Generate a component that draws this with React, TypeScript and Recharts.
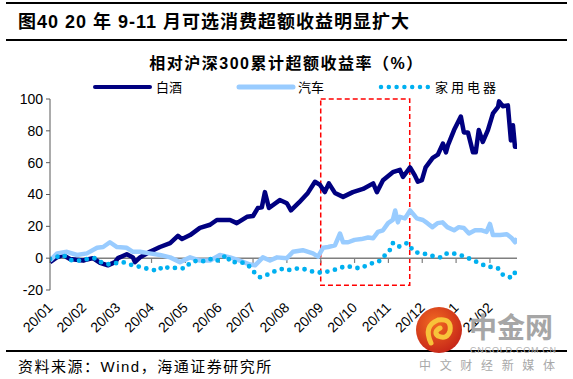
import { LineChart, Line, XAxis, YAxis, ReferenceLine, ReferenceArea } from 'recharts';

// month labels on the x axis (tick i = start of month i)
const months = ['20/01', '20/02', '20/03', '20/04', '20/05', '20/06', '20/07', '20/08', '20/09', '20/10', '20/11', '20/12', '21/01', '21/02'];
const yTicks = [-20, 0, 20, 40, 60, 80, 100];

// [months since 2020-01, cumulative excess return %]
const baijiu: [number, number][] = [
  [0, -2.5], [0.2, 0.5], [0.38, 2], [0.59, -0.5], [0.97, -1.5], [1.27, 0], [1.48, -3], [1.71, -4.5],
  [1.92, -2.5], [2.01, 0], [2.27, 2.5], [2.45, 0.5], [2.51, -2.5], [2.66, 0.5], [2.95, 4], [3.25, 7],
  [3.55, 9.5], [3.78, 14], [3.9, 12], [4.14, 14.5], [4.43, 19], [4.73, 21], [4.93, 24], [5.32, 24],
  [5.52, 22], [5.82, 26], [6.0, 26.5], [6.14, 31.5], [6.26, 32], [6.35, 41.5], [6.47, 31.5], [6.79, 36.5],
  [7.0, 34.5], [7.12, 30], [7.36, 35], [7.62, 41], [7.83, 48], [7.98, 46], [8.12, 41.5], [8.24, 47],
  [8.42, 41], [8.66, 38.5], [8.95, 41.5], [9.25, 43.5], [9.55, 47], [9.66, 41.5], [9.84, 49], [10.13, 54],
  [10.34, 55.5], [10.43, 51], [10.64, 57], [10.78, 52], [10.87, 48], [10.99, 49], [11.1, 57], [11.31, 63],
  [11.46, 65], [11.61, 72], [11.7, 66.5], [11.76, 71], [11.94, 80.5], [12.14, 89], [12.23, 79], [12.35, 79],
  [12.5, 66.5], [12.58, 66.5], [12.67, 80.5], [12.79, 73], [12.94, 80.5], [13.09, 91], [13.24, 95], [13.27, 98.5],
  [13.38, 95.5], [13.53, 96], [13.62, 74], [13.68, 83.5], [13.74, 70], [13.8, 70],
];

const qiche: [number, number][] = [
  [0, -1.5], [0.21, 3], [0.5, 4], [0.8, 2], [1.09, 3], [1.39, 6.5], [1.57, 7], [1.77, 10],
  [1.98, 7], [2.27, 6.5], [2.45, 4], [2.66, 4], [2.95, 3], [3.25, 2], [3.55, 0.5], [3.84, -2.5],
  [4.14, 0.5], [4.43, -1.5], [4.73, -1.5], [5.02, 2], [5.32, 0.5], [5.61, -1.5], [5.91, -4], [6.06, -4.5],
  [6.29, 0.5], [6.5, -1.5], [6.71, 0.5], [7.0, 0], [7.18, 4], [7.47, 5], [7.77, 3], [7.92, 1],
  [8.07, 6.5], [8.22, 7], [8.42, 8], [8.57, 15.5], [8.66, 10], [8.81, 10], [9.0, 11.5], [9.2, 12],
  [9.4, 13], [9.55, 12.5], [9.69, 16.5], [9.84, 17.5], [9.99, 22], [10.13, 24], [10.2, 30], [10.28, 22.5],
  [10.34, 26], [10.49, 25], [10.64, 30], [10.84, 25], [11.02, 24], [11.15, 22], [11.3, 19.5], [11.45, 22],
  [11.6, 22.5], [11.74, 19.5], [11.94, 17.5], [12.08, 19.5], [12.23, 19], [12.38, 15.5], [12.56, 17.5], [12.76, 17.5],
  [12.9, 16.5], [13.0, 21.5], [13.09, 14.5], [13.3, 14.5], [13.5, 15], [13.65, 12.5], [13.74, 10], [13.8, 12.5],
];

const jiadian: [number, number][] = [
  [0, -0.5], [0.38, 2], [0.65, -1.5], [0.89, -1.5], [1.12, -0.5], [1.33, 0], [1.54, -3], [1.77, -4],
  [1.98, -3], [2.16, -2.5], [2.36, -4], [2.57, -5], [2.75, -6], [2.95, -7], [3.19, -8], [3.34, -5],
  [3.55, -6.5], [3.75, -6], [3.99, -6.5], [4.14, -3], [4.34, -1.5], [4.58, -2], [4.82, 0], [4.96, -1.5],
  [5.23, 2], [5.32, -2.5], [5.52, -2.5], [5.76, -3], [5.91, -5.5], [6.06, -9.5], [6.2, -12], [6.41, -10.5],
  [6.59, -8.5], [6.73, -8], [6.88, -6.5], [7.09, -7.5], [7.3, -6.5], [7.45, -6.5], [7.68, -8], [7.89, -9],
  [8.12, -9], [8.33, -7.5], [8.5, -7], [8.71, -5], [8.92, -5.5], [9.16, -6.5], [9.36, -4.5], [9.54, -3],
  [9.69, -2.5], [9.84, 0], [9.96, 4], [10.04, 5], [10.13, 9.5], [10.28, 7], [10.4, 8], [10.55, 9.5],
  [10.64, 8], [10.72, 4.5], [10.93, 3], [11.14, 2.5], [11.28, 1.5], [11.43, 0.5], [11.58, 0.5], [11.73, 3],
  [11.91, 3], [12.11, 2], [12.32, 0.5], [12.5, -1.5], [12.7, -3], [12.91, -5.5], [13.09, -5.5], [13.24, -6.5],
  [13.35, -10], [13.53, -12], [13.68, -12], [13.77, -7.5],
];

// highlighted window: Sep 2020 .. late Nov 2020
const boxStart = 8;
const boxEnd = 10.63;

const NAVY = '#000080';
const LIGHT = '#99CCFF';
const CYAN = '#00B0F0';
const AXIS = '#595959';

const LATIN = "'Liberation Sans', Arial, 'Noto Sans CJK SC', sans-serif";
const CJK = "'Liberation Sans', 'Noto Sans CJK SC', sans-serif";

const toRows = (pts: [number, number][]) => pts.map(([t, v]) => ({ t, v }));

function MonthTick(props: any) {
  const { x, y, payload } = props;
  return (
    <text
      transform={`translate(${x},${y + 15}) rotate(-45)`}
      textAnchor="end"
      dy="0.35em"
      fontSize={14}
      fontFamily={LATIN}
      fill="#000"
    >
      {months[payload.value]}
    </text>
  );
}

function Rule({ top }: { top: number }) {
  return <div style={{ position: 'absolute', left: 6, right: 6, top, height: 2, background: '#000' }} />;
}

export default function App() {
  return (
    <div style={{ position: 'absolute', left: 0, top: 0, width: 573, height: 379, background: '#fff', overflow: 'hidden' }}>
      <Rule top={2} />
      <div style={{ position: 'absolute', left: 18, top: 11, fontFamily: CJK, fontWeight: 700, fontSize: 18, lineHeight: '22px', letterSpacing: 1, whiteSpace: 'nowrap' }}>
        图40 20 年 9-11 月可选消费超额收益明显扩大
      </div>
      <Rule top={39} />

      <div style={{ position: 'absolute', left: 0, width: 573, top: 54, textAlign: 'center', fontFamily: CJK, fontWeight: 700, fontSize: 16, lineHeight: '20px', letterSpacing: 1.5 }}>
        相对沪深300累计超额收益率（%）
      </div>

      {/* legend */}
      <svg width={573} height={20} style={{ position: 'absolute', left: 0, top: 77 }}>
        <line x1={95} x2={150} y1={10} y2={10} stroke={NAVY} strokeWidth={4} strokeLinecap="round" />
        <text x={156} y={15} fontSize={13} fontFamily="'Noto Sans CJK SC', sans-serif" fill="#000">白酒</text>
        <line x1={239} x2={293} y1={10} y2={10} stroke={LIGHT} strokeWidth={5} strokeLinecap="round" />
        <text x={298} y={15} fontSize={13} fontFamily="'Noto Sans CJK SC', sans-serif" fill="#000">汽车</text>
        <line x1={381} x2={428} y1={10} y2={10} stroke={CYAN} strokeWidth={4.5} strokeLinecap="round" strokeDasharray="0 7.8" />
        <text x={435} y={15} fontSize={13} fontFamily="'Noto Sans CJK SC', sans-serif" fill="#000" letterSpacing={3}>家用电器</text>
      </svg>

      <div style={{ position: 'absolute', left: 0, top: 0 }}>
        <LineChart width={573} height={379} margin={{ top: 99, right: 56, bottom: 29, left: 0 }}>
          <XAxis
            xAxisId={0}
            type="number"
            dataKey="t"
            domain={[0, 13.8]}
            ticks={months.map((_, i) => i)}
            interval={0}
            axisLine={false}
            tickLine={false}
            tickSize={0}
            tickMargin={0}
            height={60}
            tick={<MonthTick />}
            allowDataOverflow
          />
          <YAxis
            type="number"
            dataKey="v"
            domain={[-20, 100]}
            ticks={yTicks}
            interval={0}
            width={50}
            stroke={AXIS}
            tickSize={4}
            tickMargin={3}
            tick={{ fill: '#000', fontSize: 14, fontFamily: LATIN }}
          />
          <ReferenceLine y={0} stroke="#7F7F7F" strokeWidth={1.5} />
          {months.map((_, i) => (
            <ReferenceLine key={i} segment={[{ x: i, y: 0 }, { x: i, y: -3 }]} stroke="#7F7F7F" strokeWidth={1.2} />
          ))}
          <Line data={toRows(baijiu)} dataKey="v" type="linear" stroke={NAVY} strokeWidth={4.5} dot={false} strokeLinejoin="round" isAnimationActive={false} />
          <Line data={toRows(qiche)} dataKey="v" type="linear" stroke={LIGHT} strokeWidth={4.5} dot={false} strokeLinejoin="round" isAnimationActive={false} />
          <Line data={toRows(jiadian)} dataKey="v" type="linear" stroke={CYAN} strokeWidth={4.8} dot={false} strokeLinecap="round" strokeDasharray="0 7.8" isAnimationActive={false} />
          <ReferenceArea x1={boxStart} x2={boxEnd} y1={-17} y2={100} fill="none" stroke="#FF0000" strokeWidth={1.5} strokeDasharray="5 3" />
        </LineChart>
      </div>

      <Rule top={350} />
      <div style={{ position: 'absolute', left: 18, top: 358, fontFamily: "'Liberation Sans', 'Noto Sans CJK SC', sans-serif", fontSize: 15, lineHeight: '18px', letterSpacing: 1.5, whiteSpace: 'nowrap' }}>
        资料来源：Wind，海通证券研究所
      </div>

      {/* watermark */}
      <svg width={573} height={379} style={{ position: 'absolute', left: 0, top: 0, pointerEvents: 'none' }}>
        <defs>
          <radialGradient id="wm" cx="40%" cy="35%" r="70%">
            <stop offset="0%" stopColor="#F26A22" />
            <stop offset="100%" stopColor="#C52418" />
          </radialGradient>
        </defs>
        <circle cx={439} cy={330} r={23} fill="url(#wm)" />
        <path d="M 431 343 Q 423 326 438 320 Q 452 318 450 331 Q 447 340 438 336 Q 433 332 440 328" fill="none" stroke="#F8C33A" strokeWidth={5} strokeLinecap="round" />
        <text x={469} y={338} fontSize={28} fontWeight={700} fontFamily="'Noto Sans CJK SC', sans-serif" fill="#A6A6A6">中金网</text>
        <text x={470} y={353} fontSize={9} fontFamily={LATIN} fill="#B4B4B4" textLength={86}>CNGOLD.COM.CN</text>
        <text x={419} y={370} fontSize={12} fontFamily="'Noto Sans CJK SC', sans-serif" fill="#A8A8A8" textLength={136}>中文财经新媒体</text>
      </svg>
    </div>
  );
}
